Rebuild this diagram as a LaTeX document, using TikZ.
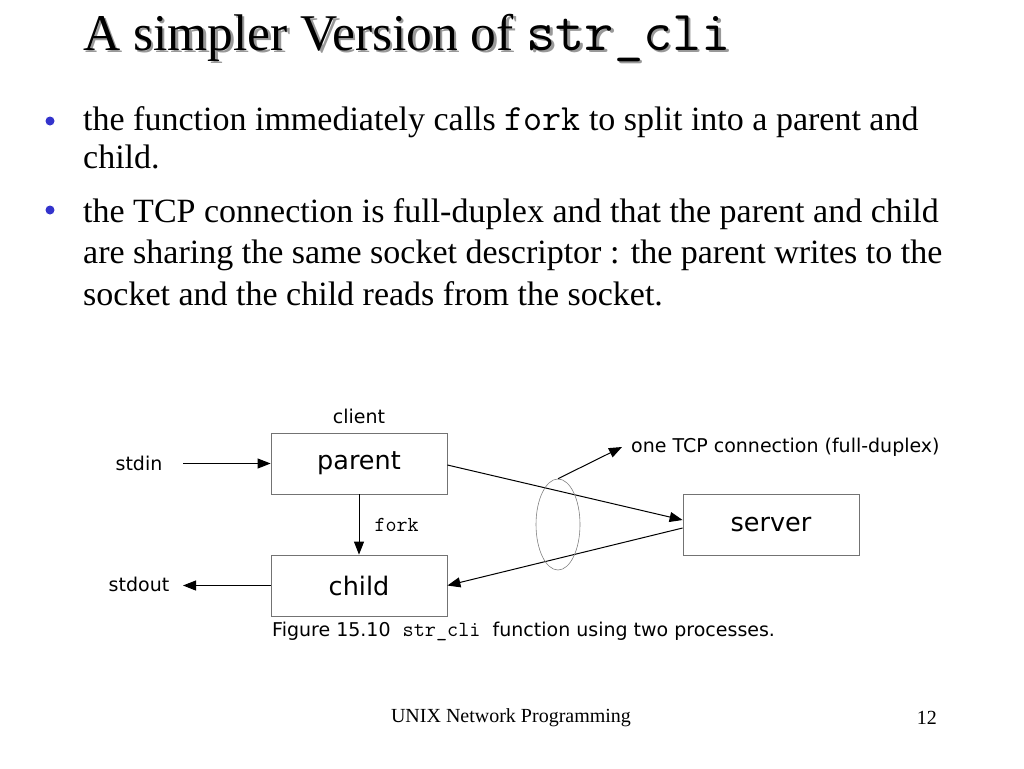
\documentclass[tikz,border=0pt]{standalone}
\usepackage{fontspec}
\setmainfont{Liberation Serif}
\newfontfamily\figfont{DejaVu Sans}
\usetikzlibrary{positioning,arrows.meta,shapes.geometric}
\definecolor{bulletblue}{RGB}{51,51,204}
\newcommand\titletext{A simpler Version of {\ttfamily\fontsize{56.6}{60}\selectfont str\_cli}}
\tikzset{
	box/.style={draw=black!55, line width=0.8pt, minimum width=176pt, minimum height=61pt, inner sep=0pt, font=\figfont\fontsize{25.5}{30}\selectfont},
	lbl/.style={inner sep=0pt, font=\figfont\fontsize{19}{22}\selectfont},
	txtline/.style={anchor=base west, inner sep=0pt, font=\fontsize{34}{40}\selectfont},
	conn/.style={-{Triangle[length=13pt,width=10pt]}, line width=1pt},
	dot/.style={circle, fill=bulletblue, inner sep=0pt, minimum size=9pt}
}

\begin{document}
\begin{tikzpicture}[x=1pt,y=-1pt]
			%%%%% START %%%%%
			\useasboundingbox (0,0) rectangle (1024,768);
			
			% title, its shadow set under it in the same node
			\node[anchor=base west, inner sep=0pt, font=\fontsize{51.5}{56}\selectfont] (title) at (83,50) {\rlap{\hspace{2.5pt}\raisebox{-2.5pt}{\color{black!40}\titletext}}\titletext};
			
			% bullets
			\node[dot] (dota) at (50,121) {};
			\node[txtline] (la) at (83,130) {the function immediately calls {\ttfamily\fontsize{37}{40}\selectfont fork} to split into a parent and};
			\node[txtline] (lb) at (83,168) {child.};
			\node[dot] (dotb) at (50,210) {};
			\node[txtline] (lc) at (83,222) {the TCP connection is full-duplex and that the parent and child};
			\node[txtline] (ld) at (83,263) {are sharing the same socket descriptor : the parent writes to the};
			\node[txtline] (le) at (83,305) {socket and the child reads from the socket.};
			
			% the figure
			\node[box] (parent) at (359,463.5) {parent};
			\node[box] (child) at (359,585.5) {child};
			\node[box] (server) at (771,524.5) {server};
			\node[lbl] (client) at (359,416) {client};
			\node[lbl] (stdin) at (139,463) {stdin};
			\node[lbl] (stdout) at (139,584) {stdout};
			\coordinate (inend) at (183,463.5);
			\coordinate (outend) at (183,585.5);
			
			\draw[conn] (inend) -- (parent.west);
			\draw[conn] (child.west) -- (outend);
			\draw[conn] (parent.south) -- node[right=15pt, inner sep=0pt, font=\ttfamily\fontsize{21.4}{24}\selectfont] (forklbl) {fork} (child.north);
			\draw[conn] ([yshift=-1.5pt]parent.east) -- ([yshift=4.5pt]server.west);
			\draw[conn] ([yshift=-3.5pt]server.west) -- (child.east);
			
			\node[ellipse, draw=black!50, line width=0.6pt, minimum width=44pt, minimum height=91pt, inner sep=0pt] (tcp) at (558,524.5) {};
			\node[lbl, anchor=west, inner xsep=9pt] (tcplbl) at (622,447) {one TCP connection (full-duplex)};
			\draw[conn] (tcp.north) -- (tcplbl.west);
			
			\node[lbl, anchor=west] (caption) at (272,631) {Figure 15.10\ \ {\ttfamily\fontsize{21.6}{24}\selectfont str\_cli}\ \ function using two processes.};
			
			% footer
			\node[inner sep=0pt, font=\fontsize{20}{22}\selectfont] (footer) at (511,718) {UNIX Network Programming};
			\node[anchor=east, inner sep=0pt, font=\fontsize{20}{22}\selectfont] (pagenum) at (937,718) {12};
			%%%%% END %%%%%
\end{tikzpicture}
\end{document}
